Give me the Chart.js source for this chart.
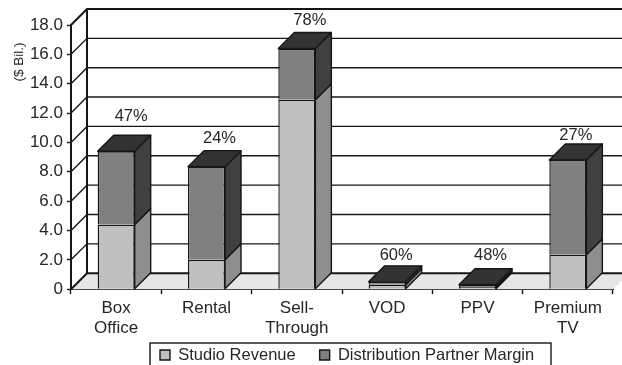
<!DOCTYPE html>
<html>
<head>
<meta charset="utf-8">
<style>
  html, body { margin: 0; padding: 0; background: #fff; overflow: hidden; }
  #wrap { position: relative; width: 622px; height: 365px; }
</style>
<script src="https://cdn.jsdelivr.net/npm/chart.js@4/dist/chart.umd.min.js"></script>
</head>
<body>
<div id="wrap"><canvas id="chart" width="622" height="365"></canvas></div>
<script>
const categories = [["Box", "Office"], "Rental", ["Sell-", "Through"], "VOD", "PPV", ["Premium", "TV"]];
const studioRevenue = [4.4, 2.0, 12.9, 0.3, 0.15, 2.35];
const partnerMargin = [5.0, 6.35, 3.5, 0.2, 0.15, 6.45];
const shareLabels = ["47%", "24%", "78%", "60%", "48%", "27%"];
const yTicks = [0, 2, 4, 6, 8, 10, 12, 14, 16, 18];

const INK = "#161616";
const TEXT = "#262626";
const FONT = "'Liberation Sans', Arial, sans-serif";
const DEPTH = 16;
const LEGEND_GAP = 24;
const LEGEND_FONT = 16.5;

// Back wall, floor and the diagonal lines joining the axis to the wall.
const wallPlugin = {
  id: "wall",
  beforeDatasetsDraw(chart) {
    const { ctx, chartArea: a, scales: { y } } = chart;
    ctx.save();
    ctx.fillStyle = "#e6e6e6";
    ctx.beginPath();
    ctx.moveTo(a.left, a.bottom);
    ctx.lineTo(a.left + DEPTH, a.bottom - DEPTH);
    ctx.lineTo(a.right + DEPTH, a.bottom - DEPTH);
    ctx.lineTo(a.right, a.bottom);
    ctx.closePath();
    ctx.fill();
    ctx.strokeStyle = INK;
    yTicks.forEach(v => {
      const py = y.getPixelForValue(v);
      ctx.lineWidth = (v === 0 || v === 18) ? 2 : 1.4;
      ctx.beginPath();
      ctx.moveTo(a.left, py);
      ctx.lineTo(a.left + DEPTH, py - DEPTH);
      ctx.lineTo(a.right + DEPTH, py - DEPTH);
      ctx.stroke();
    });
    ctx.lineWidth = 2;
    ctx.beginPath();
    ctx.moveTo(a.left + DEPTH, y.getPixelForValue(18) - DEPTH);
    ctx.lineTo(a.left + DEPTH, y.getPixelForValue(0) - DEPTH);
    ctx.stroke();
    ctx.restore();
  }
};

// Side and top faces of each stacked column, extruded from the bar elements.
const extrudePlugin = {
  id: "extrude",
  beforeDatasetsDraw(chart) {
    const { ctx } = chart;
    const sideColors = ["#8e8e8e", "#404040"];
    const topColor = "#333333";
    const lower = chart.getDatasetMeta(0).data;
    const upper = chart.getDatasetMeta(1).data;
    const face = (pts, fill) => {
      ctx.beginPath();
      pts.forEach((p, i) => i ? ctx.lineTo(p[0], p[1]) : ctx.moveTo(p[0], p[1]));
      ctx.closePath();
      ctx.fillStyle = fill;
      ctx.fill();
      ctx.stroke();
    };
    ctx.save();
    ctx.strokeStyle = INK;
    ctx.lineWidth = 1.4;
    ctx.lineJoin = "round";
    lower.forEach((bar, i) => {
      const r = bar.x + bar.width / 2;
      const l = bar.x - bar.width / 2;
      [bar, upper[i]].forEach((seg, k) => {
        face([[r, seg.base], [r + DEPTH, seg.base - DEPTH], [r + DEPTH, seg.y - DEPTH], [r, seg.y]], sideColors[k]);
      });
      const t = upper[i].y;
      face([[l, t], [l + DEPTH, t - DEPTH], [r + DEPTH, t - DEPTH], [r, t]], topColor);
    });
    ctx.restore();
  }
};

// Percentage captions above the columns and the rotated unit label.
const captionPlugin = {
  id: "captions",
  afterDatasetsDraw(chart, args, opts) {
    const { ctx } = chart;
    const upper = chart.getDatasetMeta(1).data;
    ctx.save();
    ctx.fillStyle = TEXT;
    ctx.font = "16.5px " + FONT;
    ctx.textAlign = "center";
    ctx.textBaseline = "middle";
    shareLabels.forEach((label, i) => {
      const [dx, dy] = opts.nudges[i];
      ctx.fillText(label, upper[i].x + dx, upper[i].y + dy);
    });
    ctx.translate(19, 62);
    ctx.rotate(-Math.PI / 2);
    ctx.font = "13.5px " + FONT;
    ctx.fillText("($ Bil.)", 0, 0);
    ctx.restore();
  }
};

// The legend sits in a ruled box that runs off the lower edge.
const legendBoxPlugin = {
  id: "legendBox",
  afterLayout(chart) {
    const lg = chart.legend;
    lg.left = 160 - LEGEND_GAP; lg.right = 622;
    lg.top = 355 - LEGEND_GAP - LEGEND_FONT / 2;
    // Two-line category labels need room below the fitted axis box.
    chart.scales.x.bottom = 342;
  },
  afterDraw(chart) {
    const { ctx } = chart;
    ctx.save();
    ctx.strokeStyle = INK;
    ctx.lineWidth = 1.4;
    ctx.strokeRect(150, 343, 401, 30);
    ctx.restore();
  }
};

new Chart(document.getElementById("chart"), {
  type: "bar",
  data: {
    labels: categories,
    datasets: [
      { label: "Studio Revenue", data: studioRevenue, backgroundColor: "#c0c0c0", borderColor: INK, borderWidth: 1.4 },
      { label: "Distribution Partner Margin", data: partnerMargin, backgroundColor: "#808080", borderColor: INK, borderWidth: 1.4 }
    ]
  },
  plugins: [wallPlugin, extrudePlugin, captionPlugin, legendBoxPlugin],
  options: {
    responsive: false,
    animation: false,
    layout: { padding: { top: 25, right: 9, left: 0, bottom: 0 } },
    datasets: { bar: { barPercentage: 0.41, categoryPercentage: 1 } },
    scales: {
      x: {
        stacked: true,
        afterFit(s) { s.height = 25.3; },
        grid: { drawOnChartArea: false, tickLength: 5, color: INK, tickWidth: 1.4 },
        border: { color: INK, width: 2 },
        ticks: {
          color: TEXT, padding: 4, maxRotation: 0, autoSkip: false,
          font: { family: FONT, size: 17, lineHeight: 1.2 }
        }
      },
      y: {
        stacked: true,
        min: 0, max: 18,
        afterFit(s) { s.width = 71; },
        afterBuildTicks(s) { s.ticks = yTicks.map(value => ({ value })); },
        grid: { drawOnChartArea: false, tickLength: 4, color: INK, tickWidth: 1.4 },
        border: { color: INK, width: 2 },
        ticks: {
          color: TEXT, padding: 4,
          font: { family: FONT, size: 17 },
          callback: v => v === 0 ? "0" : v.toFixed(1)
        }
      }
    },
    plugins: {
      tooltip: { enabled: false },
      captions: { nudges: [[15, -35], [13, -28], [13, -28], [9, -26], [13, -29], [8, -25]] },
      legend: {
        position: "bottom",
        align: "start",
        labels: {
          color: TEXT, boxWidth: 10, boxHeight: 10, padding: LEGEND_GAP,
          font: { family: FONT, size: LEGEND_FONT }
        }
      }
    }
  }
});
</script>
</body>
</html>
